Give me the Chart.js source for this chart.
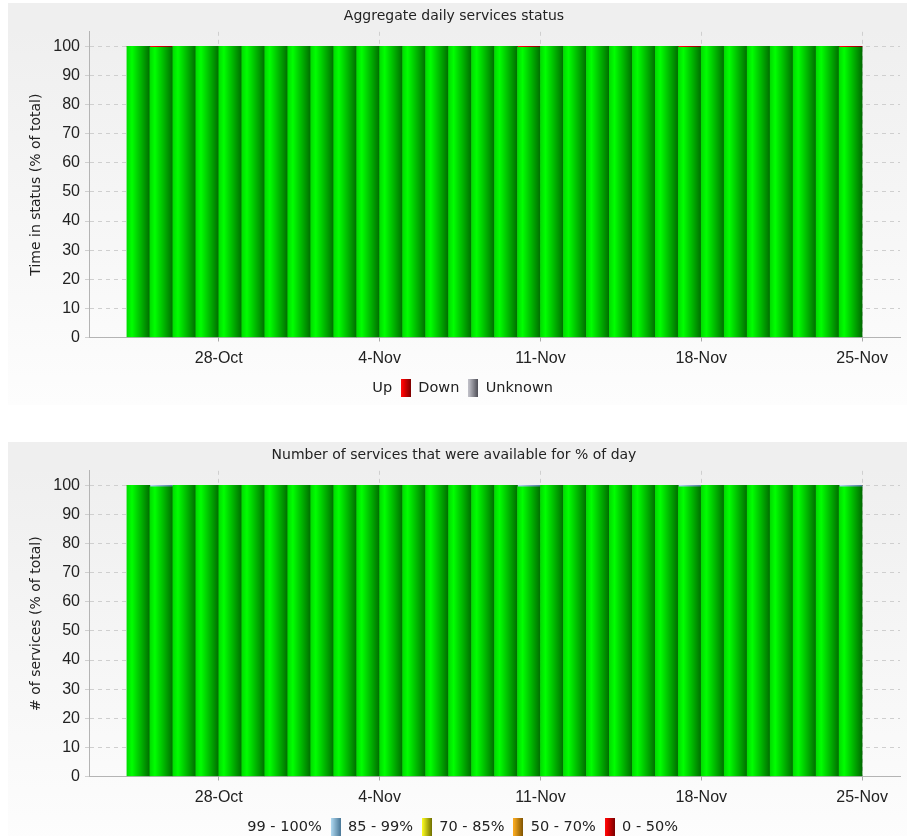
<!DOCTYPE html>
<html>
<head>
<meta charset="utf-8">
<script src="https://cdn.jsdelivr.net/npm/chart.js@4/dist/chart.umd.min.js"></script>
<style>
  html, body { margin: 0; padding: 0; background: #fff; overflow: hidden; width: 907px; height: 836px; }
  .panel { position: absolute; left: 8px; width: 899px; height: 402px; background: linear-gradient(#eeeeee, #fdfdfd); }
  #p1 { top: 3px; }
  #p2 { top: 442px; }
  canvas { display: block; }
</style>
</head>
<body>
<div class="panel" id="p1"><canvas id="c1" width="899" height="402"></canvas></div>
<div class="panel" id="p2"><canvas id="c2" width="899" height="402"></canvas></div>
<script>
// Days covered by the report (one bar per day)
const days = [
  '24-Oct', '25-Oct', '26-Oct', '27-Oct', '28-Oct', '29-Oct', '30-Oct', '31-Oct',
  '1-Nov', '2-Nov', '3-Nov', '4-Nov', '5-Nov', '6-Nov', '7-Nov', '8-Nov',
  '9-Nov', '10-Nov', '11-Nov', '12-Nov', '13-Nov', '14-Nov', '15-Nov', '16-Nov',
  '17-Nov', '18-Nov', '19-Nov', '20-Nov', '21-Nov', '22-Nov', '23-Nov', '24-Nov'
];
const xTickLabels = ['28-Oct', '4-Nov', '11-Nov', '18-Nov', '25-Nov'];
const yTickValues = [0, 10, 20, 30, 40, 50, 60, 70, 80, 90, 100];

// Aggregate daily services status (% of time)
const statusUp = [
  100, 99.7, 100, 100, 100, 100, 100, 100,
  100, 100, 100, 100, 100, 100, 100, 100,
  100, 99.7, 100, 100, 100, 100, 100, 100,
  99.7, 100, 100, 100, 100, 100, 100, 99.7
];
const statusDown = [
  0, 0.3, 0, 0, 0, 0, 0, 0,
  0, 0, 0, 0, 0, 0, 0, 0,
  0, 0.3, 0, 0, 0, 0, 0, 0,
  0.3, 0, 0, 0, 0, 0, 0, 0.3
];
const statusUnknown = [
  0, 0, 0, 0, 0, 0, 0, 0,
  0, 0, 0, 0, 0, 0, 0, 0,
  0, 0, 0, 0, 0, 0, 0, 0,
  0, 0, 0, 0, 0, 0, 0, 0
];

// Services by availability band (% of services)
const avail99to100 = [
  100, 99.5, 100, 100, 100, 100, 100, 100,
  100, 100, 100, 100, 100, 100, 100, 100,
  100, 99.5, 100, 100, 100, 100, 100, 100,
  99.5, 100, 100, 100, 100, 100, 100, 99.5
];
const avail85to99 = [
  0, 0.5, 0, 0, 0, 0, 0, 0,
  0, 0, 0, 0, 0, 0, 0, 0,
  0, 0.5, 0, 0, 0, 0, 0, 0,
  0.5, 0, 0, 0, 0, 0, 0, 0.5
];
const avail70to85 = new Array(32).fill(0);
const avail50to70 = new Array(32).fill(0);
const avail0to50 = new Array(32).fill(0);

// ---- helpers ----
const MONTH_START = { Oct: 0, Nov: 31 };
function dayNumber(label) {
  const [d, m] = label.split('-');
  return MONTH_START[m] + Number(d);
}
const origin = dayNumber(days[0]);
const dayPos = label => dayNumber(label) - origin;

const GREEN  = [[0, '#00dc00'], [0.22, '#00ff00'], [1, '#006c00']];
const RED    = [[0, '#ff1010'], [0.25, '#ee0000'], [1, '#7a0000']];
const GREY   = [[0, '#c4c4cc'], [1, '#4a4a52']];
const BLUE   = [[0, '#b4ddf4'], [1, '#4a7898']];
const YELLOW = [[0, '#ffff20'], [1, '#6e6e00']];
const ORANGE = [[0, '#ffae20'], [1, '#7a5000']];

// Horizontal gradient across the width of each day's bar
function barFill(stops) {
  return ctx => {
    const chart = ctx.chart;
    const xs = chart.scales && chart.scales.x;
    if (ctx.type !== 'data' || !xs || !ctx.raw) return stops[0][1];
    const l = xs.getPixelForValue(ctx.raw.x - 0.5);
    const r = xs.getPixelForValue(ctx.raw.x + 0.5);
    if (!isFinite(l) || !isFinite(r)) return stops[0][1];
    const g = chart.ctx.createLinearGradient(l, 0, r, 0);
    stops.forEach(([o, c]) => g.addColorStop(o, c));
    return g;
  };
}

// Small legend swatch; an empty one is left blank
function swatch(stops) {
  const c = document.createElement('canvas');
  c.width = 10; c.height = 18;
  if (stops) {
    const x = c.getContext('2d');
    const g = x.createLinearGradient(0, 0, 10, 0);
    stops.forEach(([o, col]) => g.addColorStop(o, col));
    x.fillStyle = g;
    x.fillRect(0, 0, 10, 18);
  }
  return c;
}

const toPoints = values => values.map((v, i) => ({ x: dayPos(days[i]) + 0.5, y: v }));

const titleBand = {
  id: 'titleBand',
  beforeDraw(chart) {
    const { ctx, width, chartArea } = chart;
    ctx.save();
    ctx.fillStyle = '#efefef';
    ctx.fillRect(0, 0, width, chartArea.top);
    ctx.restore();
  }
};

const TEXT_FONT = { family: '"DejaVu Sans", Verdana, sans-serif', size: 14 };
const LEGEND_FONT = { family: '"DejaVu Sans", Verdana, sans-serif', size: 14.5 };
const TICK_FONT = { family: '"Liberation Sans", Arial, sans-serif', size: 16 };

function makeChart(canvasId, title, yTitle, series) {
  const datasets = series.map(s => ({
    label: s.label,
    data: toPoints(s.values),
    backgroundColor: barFill(s.stops),
    borderWidth: 0,
    barPercentage: 1,
    categoryPercentage: 1,
    swatch: swatch(s.showSwatch ? s.stops : null)
  }));

  return new Chart(document.getElementById(canvasId), {
    type: 'bar',
    data: { datasets },
    plugins: [titleBand],
    options: {
      responsive: false,
      animation: false,
      devicePixelRatio: 1,
      layout: { padding: { left: 0, right: 7, top: 0, bottom: 0 } },
      plugins: {
        tooltip: { enabled: false },
        title: {
          display: true,
          text: title,
          color: '#222',
          font: { ...TEXT_FONT, weight: 'normal' },
          padding: { top: 5, bottom: 7 }
        },
        legend: {
          position: 'bottom',
          labels: {
            usePointStyle: true,
            pointStyleWidth: 10,
            color: '#222',
            font: LEGEND_FONT,
            padding: 9,
            generateLabels: chart => chart.data.datasets.map((ds, i) => ({
              text: ds.label,
              pointStyle: ds.swatch,
              datasetIndex: i,
              hidden: false,
              fillStyle: 'transparent',
              strokeStyle: 'transparent',
              lineWidth: 0,
              fontColor: '#222'
            }))
          }
        }
      },
      scales: {
        x: {
          type: 'linear',
          stacked: true,
          offset: false,
          min: -1.65,
          max: 33.65,
          afterBuildTicks: s => { s.ticks = xTickLabels.map(l => ({ value: dayPos(l) })); },
          afterFit: s => { s.height = 34; },
          ticks: {
            autoSkip: false,
            maxRotation: 0,
            color: '#222',
            font: TICK_FONT,
            padding: 7,
            callback: v => {
              const hit = xTickLabels.find(l => dayPos(l) === v);
              return hit || '';
            }
          },
          grid: { offset: false, color: '#cfcfcf', tickColor: '#aaaaaa', tickLength: 4 },
          border: { color: '#b4b4b4', dash: [4, 4] }
        },
        y: {
          stacked: true,
          min: 0,
          max: 105,
          afterBuildTicks: s => { s.ticks = yTickValues.map(v => ({ value: v })); },
          afterFit: s => { s.width = 81; },
          ticks: { color: '#222', font: TICK_FONT, padding: 5 },
          title: {
            display: true,
            text: yTitle,
            color: '#222',
            font: TEXT_FONT,
            padding: { top: 20, bottom: 0 }
          },
          grid: { color: '#cfcfcf', tickColor: '#cfcfcf', tickLength: 4 },
          border: { color: '#b4b4b4', dash: [4, 4] }
        }
      }
    }
  });
}

makeChart('c1', 'Aggregate daily services status', 'Time in status (% of total)', [
  { label: 'Up', values: statusUp, stops: GREEN, showSwatch: false },
  { label: 'Down', values: statusDown, stops: RED, showSwatch: true },
  { label: 'Unknown', values: statusUnknown, stops: GREY, showSwatch: true }
]);

makeChart('c2', 'Number of services that were available for % of day', '# of services (% of total)', [
  { label: '99 - 100%', values: avail99to100, stops: GREEN, showSwatch: false },
  { label: '85 - 99%', values: avail85to99, stops: BLUE, showSwatch: true },
  { label: '70 - 85%', values: avail70to85, stops: YELLOW, showSwatch: true },
  { label: '50 - 70%', values: avail50to70, stops: ORANGE, showSwatch: true },
  { label: '0 - 50%', values: avail0to50, stops: RED, showSwatch: true }
]);
</script>
</body>
</html>
